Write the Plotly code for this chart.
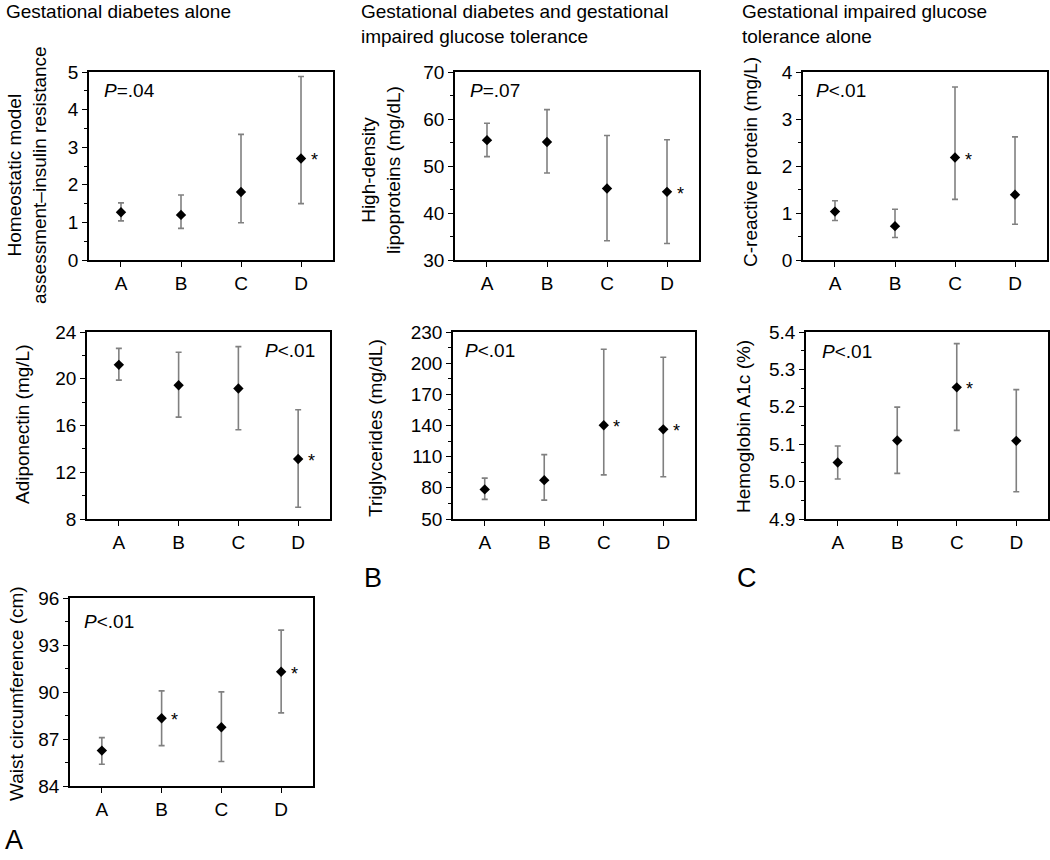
import plotly.graph_objects as go

W, H = 1050, 860
FONT = "Arial, Liberation Sans, sans-serif"

groups = ["A", "B", "C", "D"]

homa_mean = [1.27, 1.20, 1.81, 2.70]
homa_upper = [1.52, 1.73, 3.34, 4.88]
homa_lower = [1.04, 0.84, 0.99, 1.50]
homa_sig = [False, False, False, True]

hdl_mean = [55.5, 55.1, 45.2, 44.5]
hdl_upper = [59.1, 62.0, 56.5, 55.6]
hdl_lower = [52.0, 48.5, 34.1, 33.5]
hdl_sig = [False, False, False, True]

crp_mean = [1.03, 0.72, 2.18, 1.39]
crp_upper = [1.26, 1.08, 3.68, 2.62]
crp_lower = [0.84, 0.48, 1.29, 0.76]
crp_sig = [False, False, True, False]

adipo_mean = [21.19, 19.45, 19.17, 13.14]
adipo_upper = [22.60, 22.27, 22.75, 17.35]
adipo_lower = [19.88, 16.72, 15.64, 9.00]
adipo_sig = [False, False, False, True]

tg_mean = [78.5, 87.4, 140.2, 136.3]
tg_upper = [89.3, 112.0, 213.4, 205.7]
tg_lower = [68.9, 68.2, 92.5, 90.6]
tg_sig = [False, False, True, True]

hba1c_mean = [5.051, 5.110, 5.252, 5.109]
hba1c_upper = [5.095, 5.199, 5.369, 5.246]
hba1c_lower = [5.007, 5.022, 5.137, 4.973]
hba1c_sig = [False, False, True, False]

waist_mean = [86.26, 88.32, 87.75, 91.29]
waist_upper = [87.09, 90.07, 90.01, 93.95]
waist_lower = [85.39, 86.58, 85.56, 88.67]
waist_sig = [False, True, False, True]

p_labels = ["<i>P</i>=.04", "<i>P</i>=.07", "<i>P</i><.01", "<i>P</i><.01",
            "<i>P</i><.01", "<i>P</i><.01", "<i>P</i><.01"]

column_titles = ["Gestational diabetes alone",
                 "Gestational diabetes and gestational<br>impaired glucose tolerance",
                 "Gestational impaired glucose<br>tolerance alone"]
panel_letters = ["A", "B", "C"]

y_titles = ["Homeostatic model<br>assessment\u2013insulin resistance",
            "High-density<br>lipoproteins (mg/dL)",
            "C-reactive protein (mg/L)",
            "Adiponectin (mg/L)",
            "Triglycerides (mg/dL)",
            "Hemoglobin A1c (%)",
            "Waist circumference (cm)"]

series = [
    (homa_mean, homa_upper, homa_lower, homa_sig),
    (hdl_mean, hdl_upper, hdl_lower, hdl_sig),
    (crp_mean, crp_upper, crp_lower, crp_sig),
    (adipo_mean, adipo_upper, adipo_lower, adipo_sig),
    (tg_mean, tg_upper, tg_lower, tg_sig),
    (hba1c_mean, hba1c_upper, hba1c_lower, hba1c_sig),
    (waist_mean, waist_upper, waist_lower, waist_sig),
]

# layout: pixel boxes (left, top, right, bottom)
boxes = [(89, 72, 333, 260), (455, 72, 699, 260), (803, 72, 1047, 260),
         (87, 332, 330, 519), (453, 332, 695, 519), (806, 332, 1048, 519),
         (70, 598, 313, 786)]
yranges = [(0, 5), (30, 70), (0, 4), (8, 24), (50, 230), (4.9, 5.4), (84, 96)]
dticks = [1, 10, 1, 4, 30, 0.1, 3]
tickfmts = ["", "", "", "", "", ".1f", ""]
ytitle_pos = [(27, 175), (381, 170), (751, 162), (22, 425), (376, 428), (743, 427), (16, 694)]
p_pos = [(102, 91), (468, 91), (814, 91), (317, 350), (463, 350), (820, 351), (82, 621)]
p_anchor = ["left", "left", "left", "right", "left", "left", "left"]
title_pos = [(4, -1), (359, -1), (740, -1)]
letter_pos = [(3, 840), (362, 578), (735, 578)]


def fx(x):
    return x / W


def fy(y):
    return 1 - y / H


fig = go.Figure()
annotations = []
xpos = list(range(len(groups)))

for i, ((m, up, lo, sig), box) in enumerate(zip(series, boxes)):
    n = "" if i == 0 else str(i + 1)
    fig.add_trace(go.Scatter(
        x=xpos, y=m, mode="markers", xaxis="x" + n, yaxis="y" + n,
        marker=dict(symbol="diamond", size=8, color="black"),
        error_y=dict(type="data", symmetric=False,
                     array=[u - v for u, v in zip(up, m)],
                     arrayminus=[v - l for v, l in zip(m, lo)],
                     color="#808080", thickness=1.6, width=3),
        showlegend=False, hoverinfo="skip"))
    l, t, r, b = box
    fig.layout["xaxis" + n] = dict(
        domain=[fx(l), fx(r)], anchor="y" + n, range=[-0.533, 3.533],
        tickvals=xpos, ticktext=groups, ticks="outside", ticklen=5,
        tickcolor="black", showline=True, mirror=True, linecolor="black",
        linewidth=1.5, showgrid=False, zeroline=False, automargin=False,
        tickfont=dict(family=FONT, size=19, color="black"),
        ticklabelstandoff=0, fixedrange=True)
    y0, y1 = yranges[i]
    fig.layout["yaxis" + n] = dict(
        domain=[fy(b), fy(t)], anchor="x" + n, range=[y0, y1],
        tick0=y0, dtick=dticks[i], tickformat=tickfmts[i],
        ticks="outside", ticklen=5, tickcolor="black",
        minor=dict(dtick=dticks[i] / 2, tick0=y0, ticks="outside", ticklen=3,
                   tickcolor="black", showgrid=False),
        showline=True, mirror=True, linecolor="black", linewidth=1.5,
        showgrid=False, zeroline=False, automargin=False,
        tickfont=dict(family=FONT, size=19, color="black"), fixedrange=True)
    # y titles
    tx, ty = ytitle_pos[i]
    annotations.append(dict(text=y_titles[i], x=fx(tx), y=fy(ty), xref="paper", yref="paper",
                            xanchor="center", yanchor="middle", textangle=-90,
                            showarrow=False, font=dict(family=FONT, size=19, color="black")))
    # P labels
    px_, py_ = p_pos[i]
    annotations.append(dict(text=p_labels[i], x=fx(px_), y=fy(py_), xref="paper", yref="paper",
                            xanchor=p_anchor[i], yanchor="middle", showarrow=False,
                            font=dict(family=FONT, size=19, color="black")))
    # significance stars
    for k, s in enumerate(sig):
        if s:
            annotations.append(dict(text="*", x=xpos[k], y=m[k], xref="x" + n, yref="y" + n,
                                    xanchor="center", yanchor="middle", xshift=13, yshift=-2,
                                    showarrow=False, font=dict(family=FONT, size=18, color="black")))

for (tx, ty), t in zip(title_pos, column_titles):
    annotations.append(dict(text=t, x=fx(tx), y=fy(ty), xref="paper", yref="paper",
                            xanchor="left", yanchor="top", align="left", showarrow=False,
                            font=dict(family=FONT, size=19, color="black")))
for (tx, ty), t in zip(letter_pos, panel_letters):
    annotations.append(dict(text=t, x=fx(tx), y=fy(ty), xref="paper", yref="paper",
                            xanchor="left", yanchor="middle", showarrow=False,
                            font=dict(family=FONT, size=27, color="black")))

fig.update_layout(template="none", width=W, height=H, margin=dict(l=0, r=0, t=0, b=0, autoexpand=False),
                  paper_bgcolor="white", plot_bgcolor="white",
                  annotations=annotations, showlegend=False)

fig.write_html("out.html", config={"displayModeBar": False},
               post_script="document.body.style.margin='0';document.body.style.overflow='hidden';")
